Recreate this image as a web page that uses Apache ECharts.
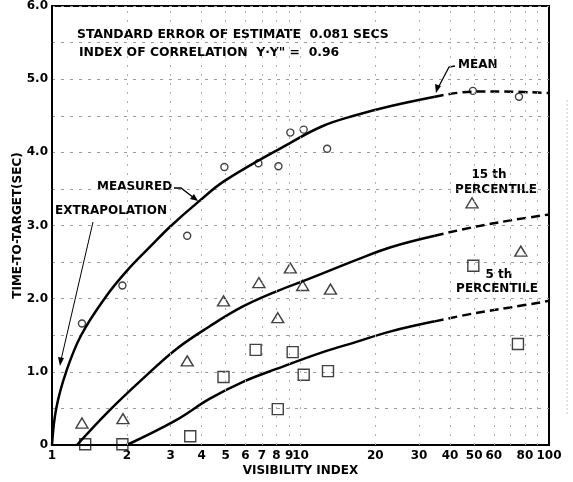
<!DOCTYPE html>
<html><head><meta charset="utf-8">
<script src="https://cdn.jsdelivr.net/npm/echarts@6/dist/echarts.min.js"></script>
<style>html,body{margin:0;padding:0;background:#fff}#c{width:573px;height:482px}</style>
</head><body><div id="c"></div>
<script>
// observed points
const meanX = [1.32,1.92,3.5,4.94,6.77,8.15,9.1,10.3,12.8,49.4,75.7];
const meanY = [1.66,2.18,2.86,3.80,3.85,3.81,4.27,4.31,4.05,4.84,4.76];
const p15X = [1.32,1.93,3.5,4.9,6.8,8.1,9.1,10.2,13.2,49,77];
const p15Y = [0.30,0.36,1.15,1.97,2.22,1.74,2.42,2.18,2.13,3.31,2.65];
const p5X = [1.36,1.92,3.6,4.9,6.6,8.1,9.3,10.3,12.9,49.6,75];
const p5Y = [0.01,0.01,0.12,0.93,1.30,0.49,1.27,0.96,1.01,2.45,1.38];
// fitted curves (solid part, then dashed extrapolation)
const meanCurveX = [1,1.04,1.14,1.31,1.65,2,2.5,3,3.9,5,9,12.3,16.8,22.9,34.7];
const meanCurveY = [0,0.5,1.0,1.5,2.03,2.38,2.72,2.99,3.33,3.62,4.12,4.36,4.51,4.63,4.76];
const meanDashX = [34.7,50,65,100];
const meanDashY = [4.76,4.83,4.83,4.81];
const p15CurveX = [1.26,1.7,2.31,3.16,4.3,5.84,8,10.8,16.8,22.9,34.7];
const p15CurveY = [0,0.47,0.9,1.31,1.62,1.89,2.1,2.27,2.53,2.7,2.86];
const p15DashX = [34.7,50,70,100];
const p15DashY = [2.86,2.98,3.07,3.15];
const p5CurveX = [2,3.16,4.3,5.84,8,12.3,16.8,22.9,34.7];
const p5CurveY = [0,0.34,0.63,0.86,1.04,1.27,1.41,1.55,1.69];
const p5DashX = [34.7,50,70,100];
const p5DashY = [1.69,1.8,1.88,1.97];
// tick labels
const xTicks = [1,2,3,4,5,6,7,8,9,10,20,30,40,50,60,80,100];
const xGrid = [2,3,4,5,6,7,8,9,10,20,30,40,50,60,70,80,90];

const zip = (a,b) => a.map((v,i)=>[v,b[i]]);
const FONT = 'DejaVu Sans';
const chart = echarts.init(document.getElementById('c'));
const lineBase = {type:'line', symbol:'none', silent:true, smooth:0.4, lineStyle:{color:'#000', width:2.5}};
const dashStyle = {color:'#000', width:2.5, type:[9,5]};
const scatBase = {type:'scatter', itemStyle:{color:'rgba(255,255,255,0)', borderColor:'#111', borderWidth:1.4}};
chart.setOption({
  animation:false,
  backgroundColor:'#fff',
  grid:{left:52, right:24, top:5, bottom:34, show:true, borderColor:'#000', borderWidth:2},
  xAxis:{type:'log', logBase:10, min:1, max:100,
    name:'VISIBILITY INDEX', nameLocation:'middle', nameGap:20, nameMoveOverlap:false,
    nameTextStyle:{fontFamily:FONT, fontWeight:'bold', fontSize:12, color:'#000'},
    axisLine:{lineStyle:{color:'#000', width:2}},
    axisTick:{show:false},
    axisLabel:{customValues:xTicks, fontFamily:FONT, fontWeight:'bold', fontSize:12, color:'#000', margin:5, formatter:v=>String(Math.round(v))},
    splitLine:{show:false}, minorSplitLine:{show:false}},
  yAxis:{type:'value', min:0, max:6, interval:0.5,
    name:'TIME-TO-TARGET(SEC)', nameLocation:'middle', nameGap:28, nameMoveOverlap:false,
    nameTextStyle:{fontFamily:FONT, fontWeight:'bold', fontSize:12, color:'#000'},
    axisLine:{lineStyle:{color:'#000', width:2}},
    axisTick:{show:false},
    axisLabel:{fontFamily:FONT, fontWeight:'bold', fontSize:12, color:'#000', margin:4,
      formatter:v=> v===0 ? '0' : (Math.abs(v%1)<1e-9 ? v.toFixed(1) : '')},
    splitLine:{show:true, lineStyle:{color:'#9a9a9a', type:[3,6], width:1}}},
  series:[
    {type:'line', data:[], silent:true,
      markLine:{silent:true, symbol:'none', label:{show:false},
        lineStyle:{color:'#b0b0b0', type:[2,7], width:1},
        data: xGrid.map(v=>({xAxis:v}))}},
    Object.assign({}, lineBase, {data:zip(meanCurveX, meanCurveY)}),
    Object.assign({}, lineBase, {data:zip(meanDashX, meanDashY), lineStyle:dashStyle}),
    Object.assign({}, lineBase, {data:zip(p15CurveX, p15CurveY)}),
    Object.assign({}, lineBase, {data:zip(p15DashX, p15DashY), lineStyle:dashStyle}),
    Object.assign({}, lineBase, {data:zip(p5CurveX, p5CurveY)}),
    Object.assign({}, lineBase, {data:zip(p5DashX, p5DashY), lineStyle:dashStyle}),
    Object.assign({}, scatBase, {symbol:'circle', symbolSize:7, data:zip(meanX, meanY)}),
    Object.assign({}, scatBase, {symbol:'triangle', symbolSize:[12,10], data:zip(p15X, p15Y)}),
    Object.assign({}, scatBase, {symbol:'rect', symbolSize:11, data:zip(p5X, p5Y)})
  ],
  graphic:[
    {type:'text', left:77, top:29, style:{text:'STANDARD ERROR OF ESTIMATE  0.081 SECS', font:'bold 12.4px '+FONT, fill:'#000'}},
    {type:'text', left:79, top:47, style:{text:'INDEX OF CORRELATION  Y·Y" =  0.96', font:'bold 12.4px '+FONT, fill:'#000'}},
    {type:'text', left:458, top:59, style:{text:'MEAN', font:'bold 12px '+FONT, fill:'#000'}},
    {type:'polyline', shape:{points:[[455,66],[449,67],[438,88]]}, style:{stroke:'#000', lineWidth:1.3, fill:null}},
    {type:'polygon', shape:{points:[[436,93],[435,84],[441,86]]}, style:{fill:'#000'}},
    {type:'text', x:489, y:175, style:{text:'15 th', font:'bold 12px '+FONT, fill:'#000', align:'center', verticalAlign:'middle'}},
    {type:'text', x:496, y:190, style:{text:'PERCENTILE', font:'bold 12px '+FONT, fill:'#000', align:'center', verticalAlign:'middle'}},
    {type:'text', x:499, y:275, style:{text:'5 th', font:'bold 12px '+FONT, fill:'#000', align:'center', verticalAlign:'middle'}},
    {type:'text', x:497, y:289, style:{text:'PERCENTILE', font:'bold 12px '+FONT, fill:'#000', align:'center', verticalAlign:'middle'}},
    {type:'text', left:97, top:181, style:{text:'MEASURED', font:'bold 12px '+FONT, fill:'#000'}},
    {type:'polyline', shape:{points:[[174,188],[181,188],[194,198]]}, style:{stroke:'#000', lineWidth:1.3, fill:null}},
    {type:'polygon', shape:{points:[[198,201],[190,199],[194,194]]}, style:{fill:'#000'}},
    {type:'text', left:55, top:205, style:{text:'EXTRAPOLATION', font:'bold 12px '+FONT, fill:'#000'}},
    {type:'line', shape:{x1:93, y1:222, x2:61, y2:360}, style:{stroke:'#000', lineWidth:1}},
    {type:'polygon', shape:{points:[[60,366],[58,357],[64,358]]}, style:{fill:'#000'}},
    {type:'line', shape:{x1:567, y1:100, x2:567, y2:415}, style:{stroke:'#c8c8c8', lineWidth:1, lineDash:[2,2]}}
  ]
});
</script></body></html>
